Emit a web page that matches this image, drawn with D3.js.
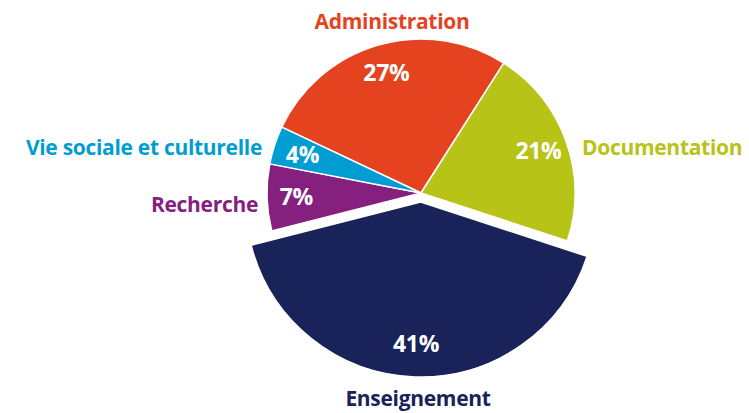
<!DOCTYPE html>
<html>
<head>
<meta charset="utf-8">
<script src="https://cdn.jsdelivr.net/npm/d3@7"></script>
<style>
  body { margin: 0; background: #fff; }
  text { font-family: "Open Sans", Lato, sans-serif; font-weight: bold; font-variant-ligatures: none; }
</style>
</head>
<body>
<svg id="chart" width="749" height="413"></svg>
<script>
// data
var categories = ["Administration", "Documentation", "Enseignement", "Recherche", "Vie sociale et culturelle"];
var values = [27, 21, 41, 7, 4];
var colors = ["#e5431f", "#b7c316", "#19235a", "#86207f", "#009dd3"];

// label placement (relative to pie centre)
var labelPos = {
  "Administration": {dx: -29, dy: -172, anchor: "middle"},
  "Documentation": {dx: 161, dy: -46, anchor: "start"},
  "Enseignement": {dx: -3, dy: 205, anchor: "middle"},
  "Recherche": {dx: -163, dy: 11, anchor: "end"},
  "Vie sociale et culturelle": {dx: -159, dy: -46, anchor: "end"}
};

var svg = d3.select("#chart"),
    cx = 421, cy = 193,
    radius = 154,
    bigRadius = 175,
    explode = 9;

var data = categories.map(function(c, i) { return {label: c, value: values[i], color: colors[i]}; });

var startA = -64.7 * Math.PI / 180;
var pie = d3.pie()
    .sort(null)
    .value(function(d) { return d.value; })
    .startAngle(startA)
    .endAngle(startA + 2 * Math.PI);

var arcs = pie(data);

function isBig(d) { return d.data.label == "Enseignement"; }
function outerR(d) { return isBig(d) ? bigRadius : radius; }
function offset(d) {
  if (!isBig(d)) return [0, 0];
  var a = (d.startAngle + d.endAngle) / 2;
  return [explode * Math.sin(a), -explode * Math.cos(a)];
}

var arc = d3.arc().innerRadius(0).outerRadius(outerR);
var labelArc = d3.arc()
    .innerRadius(function(d) { return outerR(d) * 0.81; })
    .outerRadius(function(d) { return outerR(d) * 0.81; });

var g = svg.append("g")
    .attr("transform", "translate(" + cx + "," + cy + ")");

var slice = g.selectAll(".slice")
    .data(arcs)
  .enter().append("g")
    .attr("class", "slice")
    .attr("transform", function(d) { var o = offset(d); return "translate(" + o[0] + "," + o[1] + ")"; });

slice.append("path")
    .attr("d", arc)
    .attr("fill", function(d) { return d.data.color; })
    .attr("stroke", "#fff")
    .attr("stroke-width", 1.5)
    .attr("stroke-linejoin", "round");

slice.append("text")
    .attr("transform", function(d) { return "translate(" + labelArc.centroid(d) + ")"; })
    .attr("text-anchor", "middle")
    .attr("dy", "0.36em")
    .attr("fill", "#fff")
    .style("font-size", "23px")
    .style("letter-spacing", "-0.3px")
    .text(function(d) { return d.data.value + "%"; });

g.selectAll(".cat")
    .data(arcs)
  .enter().append("text")
    .attr("class", "cat")
    .attr("x", function(d) { return labelPos[d.data.label].dx; })
    .attr("y", function(d) { return labelPos[d.data.label].dy; })
    .attr("dy", "0.36em")
    .attr("text-anchor", function(d) { return labelPos[d.data.label].anchor; })
    .attr("fill", function(d) { return d.data.color; })
    .style("font-size", "21px")
    .style("letter-spacing", "-0.3px")
    .text(function(d) { return d.data.label; });
</script>
</body>
</html>
